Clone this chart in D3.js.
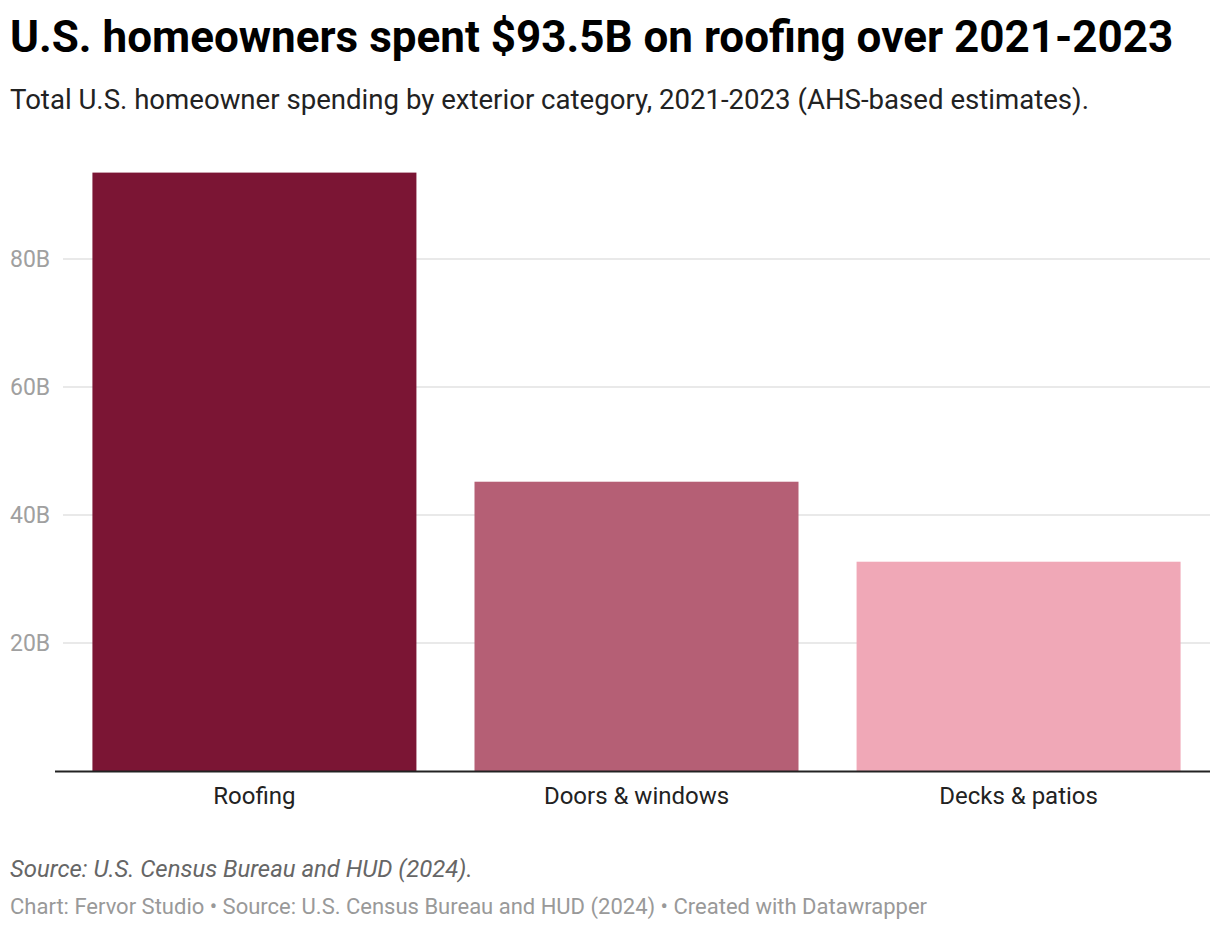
<!DOCTYPE html>
<html>
<head>
<meta charset="utf-8">
<script src="https://d3js.org/d3.v7.min.js"></script>
<style>
body { margin: 0; background: #fff; font-family: Roboto, sans-serif; }
</style>
</head>
<body>
<svg id="chart" width="1220" height="930"></svg>
<script>
var categories = ["Roofing", "Doors & windows", "Decks & patios"];
var spending = [93.5, 45.2, 32.7];
var barColors = ["#7b1534", "#b55f75", "#f0a8b7"];
var yTicks = [20, 40, 60, 80];

var svg = d3.select("#chart");

svg.append("text")
  .attr("x", 10).attr("y", 52)
  .attr("font-size", 44).attr("font-weight", 700)
  .attr("fill", "#000")
  .text("U.S. homeowners spent $93.5B on roofing over 2021-2023");

svg.append("text")
  .attr("x", 10).attr("y", 109)
  .attr("font-size", 27.6)
  .attr("fill", "#222")
  .text("Total U.S. homeowner spending by exterior category, 2021-2023 (AHS-based estimates).");

var plotLeft = 63, plotRight = 1210, plotTop = 131, plotBottom = 771;

var x = d3.scaleBand()
  .domain(categories)
  .range([plotLeft, plotRight])
  .paddingInner(0.152)
  .paddingOuter(0.077);

var y = d3.scaleLinear()
  .domain([0, 100])
  .range([plotBottom, plotTop]);

// gridlines + tick labels
var grid = svg.append("g");
grid.selectAll("line")
  .data(yTicks)
  .enter().append("line")
  .attr("x1", plotLeft).attr("x2", plotRight)
  .attr("y1", function(d) { return y(d); })
  .attr("y2", function(d) { return y(d); })
  .attr("stroke", "#e2e2e2").attr("stroke-width", 1.3);

grid.selectAll("text")
  .data(yTicks)
  .enter().append("text")
  .attr("x", 10)
  .attr("y", function(d) { return y(d) + 8; })
  .attr("font-size", 23)
  .attr("fill", "#a0a0a0")
  .text(function(d) { return d + "B"; });

svg.append("g").selectAll("rect")
  .data(spending)
  .enter().append("rect")
  .attr("x", function(d, i) { return x(categories[i]); })
  .attr("width", x.bandwidth())
  .attr("y", function(d) { return y(d); })
  .attr("height", function(d) { return y(0) - y(d); })
  .attr("fill", function(d, i) { return barColors[i]; });

svg.append("line")
  .attr("x1", 55).attr("x2", plotRight)
  .attr("y1", y(0) + 0.5).attr("y2", y(0) + 0.5)
  .attr("stroke", "#222").attr("stroke-width", 2);

var xAxis = svg.append("g")
  .attr("transform", "translate(0," + (y(0) + 1) + ")")
  .call(d3.axisBottom(x).tickSize(0).tickPadding(15));
xAxis.select(".domain").remove();
xAxis.selectAll("text")
  .attr("font-family", "Roboto, sans-serif")
  .attr("font-size", 24)
  .attr("fill", "#222");

svg.append("text")
  .attr("x", 10).attr("y", 877)
  .attr("font-size", 23.9).attr("font-style", "italic")
  .attr("fill", "#666")
  .text("Source: U.S. Census Bureau and HUD (2024).");

svg.append("text")
  .attr("x", 10).attr("y", 914)
  .attr("font-size", 22)
  .attr("fill", "#999")
  .text("Chart: Fervor Studio \u2022 Source: U.S. Census Bureau and HUD (2024) \u2022 Created with Datawrapper");
</script>
</body>
</html>
